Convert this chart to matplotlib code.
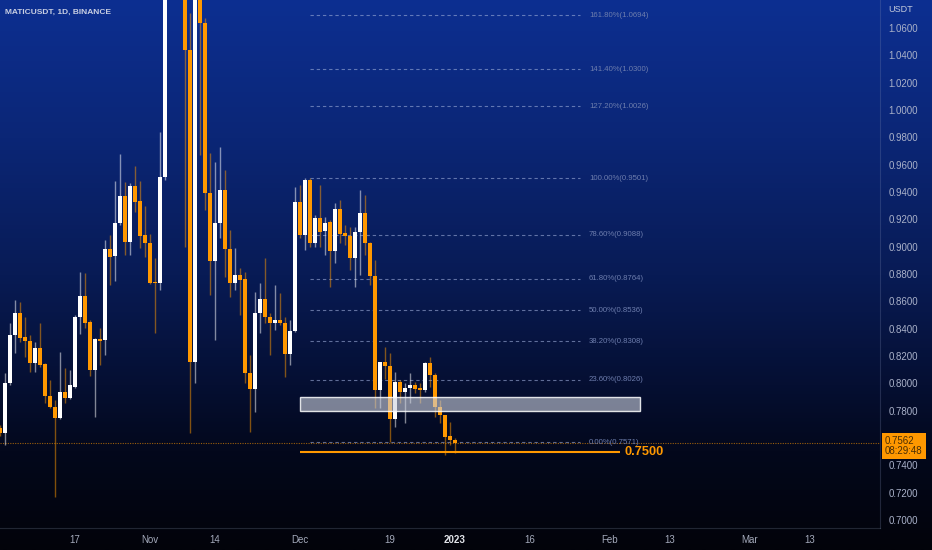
import numpy as np
import pandas as pd
import matplotlib
matplotlib.use("Agg")
import matplotlib.pyplot as plt
import matplotlib.dates as mdates
import matplotlib.transforms as mtransforms
from matplotlib.patches import Rectangle

plt.rcParams['font.family'] = ['Liberation Sans', 'DejaVu Sans']

# ---------------- data (daily MATICUSDT candles, 2 Oct 2022 .. 1 Jan 2023) ----------------
dates = pd.date_range('2022-10-02', periods=92, freq='D')

opens = [
    0.7673, 0.7637, 0.8003, 0.8354, 0.8515, 0.8339, 0.8310, 0.8149, 0.8259, 0.8142,
    0.7907, 0.7827, 0.7746, 0.7937, 0.7893, 0.7973, 0.8486, 0.8639, 0.8449, 0.8098,
    0.8325, 0.8317, 0.8983, 0.8932, 0.9173, 0.9371, 0.9035, 0.9444, 0.9334, 0.9086,
    0.9027, 0.8741, 0.8734, 0.9510, 1.1900, 1.2500, 1.2000, 1.1400, 1.0439, 0.8156,
    1.1000, 1.0637, 0.9393, 0.8895, 0.9173, 0.9415, 0.8983, 0.8734, 0.8793, 0.8763,
    0.8076, 0.7959, 0.8515, 0.8617, 0.8486, 0.8442, 0.8464, 0.8442, 0.8215, 0.8383,
    0.9327, 0.9086, 0.9488, 0.9027, 0.9210, 0.9115, 0.9181, 0.8969, 0.9276, 0.9100,
    0.9078, 0.8917, 0.9107, 0.9246, 0.9027, 0.8786, 0.7951, 0.8156, 0.8127, 0.7739,
    0.8010, 0.7937, 0.7966, 0.7988, 0.7966, 0.7951, 0.8149, 0.8061, 0.7827, 0.7768,
    0.7615, 0.7586]

highs = [
    0.7695, 0.8076, 0.8442, 0.8610, 0.8595, 0.8486, 0.8354, 0.8303, 0.8442, 0.8149,
    0.8025, 0.7878, 0.8229, 0.8112, 0.8098, 0.8500, 0.8815, 0.8807, 0.8464, 0.8332,
    0.8405, 0.9049, 0.9086, 0.9481, 0.9678, 0.9473, 0.9466, 0.9590, 0.9481, 0.9298,
    0.9093, 0.8917, 0.9839, 1.2200, 1.2900, 1.2700, 1.2200, 1.1600, 1.0710, 1.1300,
    1.1200, 1.0673, 0.9686, 0.9620, 0.9729, 0.9561, 0.9122, 0.8990, 0.8844, 0.8815,
    0.8208, 0.8668, 0.8734, 0.8917, 0.8515, 0.8720, 0.8661, 0.8486, 0.8464, 0.9437,
    0.9451, 0.9503, 0.9503, 0.9232, 0.9451, 0.9217, 0.9195, 0.9320, 0.9342, 0.9159,
    0.9144, 0.9144, 0.9415, 0.9378, 0.9035, 0.8903, 0.8160, 0.8266, 0.8222, 0.8083,
    0.8025, 0.8003, 0.8076, 0.8010, 0.8003, 0.8156, 0.8193, 0.8076, 0.7878, 0.7768,
    0.7717, 0.7600]

lows = [
    0.7615, 0.7549, 0.7988, 0.8222, 0.8303, 0.8193, 0.8083, 0.8083, 0.8120, 0.7856,
    0.7820, 0.7168, 0.7739, 0.7856, 0.7886, 0.7966, 0.8361, 0.8405, 0.8054, 0.7754,
    0.8134, 0.8208, 0.8720, 0.8749, 0.9159, 0.8939, 0.8939, 0.9254, 0.8990, 0.8925,
    0.8730, 0.8368, 0.8683, 0.9488, 1.1700, 1.1800, 1.1000, 0.8998, 0.7637, 0.8003,
    0.9671, 0.9268, 0.8646, 0.8317, 0.9064, 0.8778, 0.8632, 0.8683, 0.8500, 0.8003,
    0.7644, 0.7790, 0.8368, 0.8442, 0.8208, 0.8390, 0.8427, 0.8047, 0.8134, 0.8376,
    0.9064, 0.8976, 0.8998, 0.8998, 0.8998, 0.8939, 0.8705, 0.8881, 0.9027, 0.9012,
    0.8829, 0.8705, 0.8793, 0.8939, 0.8720, 0.7820, 0.7820, 0.8032, 0.7571, 0.7681,
    0.7856, 0.7710, 0.7856, 0.7929, 0.7856, 0.7937, 0.7973, 0.7754, 0.7710, 0.7476,
    0.7549, 0.7490]

closes = [
    0.7637, 0.8003, 0.8354, 0.8515, 0.8332, 0.8310, 0.8149, 0.8259, 0.8134, 0.7907,
    0.7827, 0.7746, 0.7937, 0.7893, 0.7988, 0.8486, 0.8639, 0.8442, 0.8098, 0.8325,
    0.8310, 0.8983, 0.8925, 0.9173, 0.9371, 0.9035, 0.9444, 0.9327, 0.9078, 0.9027,
    0.8734, 0.8734, 0.9510, 1.1900, 1.2500, 1.2000, 1.1400, 1.0439, 0.8156, 1.1000,
    1.0637, 0.9393, 0.8895, 0.9173, 0.9415, 0.8983, 0.8734, 0.8793, 0.8756, 0.8076,
    0.7959, 0.8515, 0.8617, 0.8486, 0.8442, 0.8464, 0.8442, 0.8215, 0.8383, 0.9327,
    0.9086, 0.9488, 0.9027, 0.9210, 0.9107, 0.9173, 0.8969, 0.9276, 0.9093, 0.9078,
    0.8917, 0.9107, 0.9246, 0.9027, 0.8786, 0.7951, 0.8156, 0.8127, 0.7739, 0.8010,
    0.7937, 0.7966, 0.7988, 0.7959, 0.7951, 0.8149, 0.8061, 0.7827, 0.7768, 0.7607,
    0.7586, 0.7562]

countdown = '08:29:48'

price_ticks = [0.70, 0.72, 0.74, 0.76, 0.78, 0.80, 0.82, 0.84, 0.86, 0.88,
               0.90, 0.92, 0.94, 0.96, 0.98, 1.00, 1.02, 1.04, 1.06]
tick_dates = ['2022-10-17', '2022-11-01', '2022-11-14', '2022-12-01', '2022-12-19',
              '2023-01-01', '2023-01-16', '2023-02-01', '2023-02-13', '2023-03-01', '2023-03-13']
tick_labels = ['17', 'Nov', '14', 'Dec', '19', '2023', '16', 'Feb', '13', 'Mar', '13']

fib_labels = ['161.80%', '141.40%', '127.20%', '100.00%', '78.60%', '61.80%',
              '50.00%', '38.20%', '23.60%', '0.00%']
fib_values = [1.0694, 1.0300, 1.0026, 0.9501, 0.9088, 0.8764, 0.8536, 0.8308, 0.8026, 0.7571]
fib_start, fib_end = '2022-12-03', '2023-01-26'

zone_start, zone_end = '2022-12-01', '2023-02-07'
zone_low, zone_high = 0.7798, 0.7900

level_value = 0.7500
level_start, level_end = '2022-12-01', '2023-02-03'

x_start, x_end = '2022-10-02', '2023-03-27'
y_low, y_high = 0.6942, 1.0805

# ---------------- styling ----------------
W, H = 932, 550
ORANGE = '#ff9800'
fig = plt.figure(figsize=(W / 100, H / 100), dpi=100)

# background gradient (blue -> black)
stops_pos = [0.0, 0.25, 0.5, 0.7, 0.82, 1.0]
stops_col = np.array([[13, 47, 145], [11, 38, 118], [8, 27, 85], [5, 15, 50],
                      [3, 8, 28], [2, 3, 10]]) / 255.0
t = np.linspace(0, 1, H)
grad = np.stack([np.interp(t, stops_pos, stops_col[:, k]) for k in range(3)], axis=-1)[:, None, :]
bg = fig.add_axes([0, 0, 1, 1], zorder=-5)
bg.imshow(grad, aspect='auto', extent=[0, 1, 0, 1], interpolation='bilinear')
bg.set_axis_off()

plot_right = 880 / W
plot_bottom = 22 / H
ax = fig.add_axes([0, plot_bottom, plot_right, 1 - plot_bottom])
ax.patch.set_alpha(0)

x = mdates.date2num(dates)
o = np.array(opens); h = np.array(highs); l = np.array(lows); c = np.array(closes)
up = c >= o
wick_cols = [(1, 1, 1, 0.5) if u else (1.0, 0.596, 0.0, 0.5) for u in up]
body_cols = ['#ffffff' if u else ORANGE for u in up]
ax.vlines(x, l, h, colors=wick_cols, linewidth=1.0, zorder=3)
body_h = np.maximum(np.abs(c - o), 0.0008)
ax.bar(x, body_h, bottom=np.minimum(o, c), width=0.8, color=body_cols, linewidth=0, zorder=4)

# fib levels
fs, fe = mdates.datestr2num(fib_start), mdates.datestr2num(fib_end)
for lab, val in zip(fib_labels, fib_values):
    ax.hlines(val, fs, fe, colors=(0.62, 0.68, 0.85, 0.6), linewidth=0.8,
              linestyles=(0, (3, 2.6)), zorder=2)
    ax.annotate(f'{lab}({val:.4f})', xy=(fe, val), xytext=(6.5, 0), textcoords='offset points',
                ha='left', va='center', fontsize=5.6, color='#6d7dad', zorder=2)

# support zone
zs, ze = mdates.datestr2num(zone_start), mdates.datestr2num(zone_end)
ax.add_patch(Rectangle((zs, zone_low), ze - zs, zone_high - zone_low,
                       facecolor=(0.80, 0.82, 0.87, 0.60), edgecolor=(1, 1, 1, 0.85),
                       linewidth=1.0, zorder=5))

# horizontal level 0.75
ls_, le_ = mdates.datestr2num(level_start), mdates.datestr2num(level_end)
ax.hlines(level_value, ls_, le_, colors=ORANGE, linewidth=1.5, zorder=5)
ax.annotate(f'{level_value:.4f}', xy=(le_, level_value), xytext=(3.5, 0),
            textcoords='offset points', ha='left', va='center', fontsize=9.3,
            fontweight='bold', color=ORANGE, zorder=6)

# current price line
last = closes[-1]
ax.axhline(last, color=ORANGE, linewidth=0.8, linestyle=(0, (1, 1.2)), alpha=0.6, zorder=1)

# axes limits / ticks
ax.set_xlim(mdates.datestr2num(x_start), mdates.datestr2num(x_end))
ax.set_ylim(y_low, y_high)
ax.yaxis.tick_right()
ax.set_yticks(price_ticks)
ax.set_yticklabels([f'{v:.4f}' for v in price_ticks])
ax.tick_params(axis='y', length=0, pad=6, labelsize=7, labelcolor='#a9b1c9')
ax.set_xticks(mdates.datestr2num(tick_dates))
ax.set_xticklabels(tick_labels)
ax.tick_params(axis='x', length=0, pad=5, labelsize=7, labelcolor='#a3a9ba')
for lbl in ax.get_xticklabels():
    if lbl.get_text() == '2023':
        lbl.set_color('#e2e4ea')
        lbl.set_fontweight('bold')
for side in ['top', 'left']:
    ax.spines[side].set_visible(False)
ax.spines['bottom'].set_color((0.5, 0.55, 0.65, 0.25))
ax.spines['right'].set_color((0.5, 0.55, 0.7, 0.25))
ax.spines['bottom'].set_linewidth(0.8)
ax.spines['right'].set_linewidth(0.8)

# price tag
blend = mtransforms.blended_transform_factory(ax.transAxes, ax.transData)
ax.annotate(f'{last:.4f}\n{countdown}', xy=(1, last), xycoords=blend,
            xytext=(3.6, 5.2), textcoords='offset points', ha='left', va='top',
            fontsize=7, color='#4a2e05', linespacing=1.0, annotation_clip=False,
            bbox=dict(boxstyle='square,pad=0.35', fc=ORANGE, ec='none'), zorder=20)

# texts
fig.text(888 / W, 1 - 10 / H, 'USDT', fontsize=6.5, color='#c3c9db', ha='left', va='center')
fig.text(5 / W, 1 - 12 / H, 'MATICUSDT, 1D, BINANCE', fontsize=6, fontweight='bold',
         color='#c8cee2', ha='left', va='center')

fig.savefig('out.png', dpi=100)
